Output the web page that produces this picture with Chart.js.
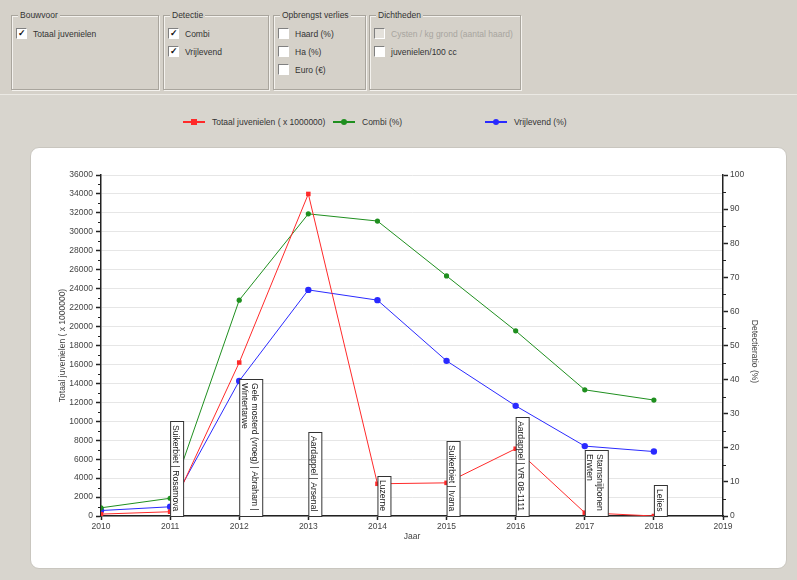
<!DOCTYPE html>
<html>
<head>
<meta charset="utf-8">
<script src="https://cdn.jsdelivr.net/npm/chart.js@4/dist/chart.umd.min.js"></script>
<style>
  html, body { margin:0; padding:0; }
  body { width:797px; height:580px; background:#d5d1c9; position:relative; overflow:hidden;
         font-family:"Liberation Sans", Arial, sans-serif; font-size:8.5px; color:#222; }
  .grp { position:absolute; border:1px solid #a9a59d; box-shadow:1px 1px 0 #f4f2ee, inset 1px 1px 0 #f4f2ee; }
  .grp .ttl { position:absolute; top:-6px; left:6px; background:#d5d1c9; padding:0 2px; color:#333; }
  .cb { position:absolute; display:flex; align-items:center; white-space:nowrap; color:#333; }
  .cb .box { width:9px; height:9px; background:#fff; border-top:1px solid #808080; border-left:1px solid #808080;
             border-bottom:1px solid #fff; border-right:1px solid #fff; margin-right:6px; position:relative;
             font-size:9px; line-height:9px; text-align:center; font-weight:bold; color:#111; }
  .cb.dis { color:#a8a59f; }
  .cb.dis .box { background:#e4e1db; }
  #lower { position:absolute; left:0; top:94px; width:797px; height:486px; background:#d8d5ce; border-top:1px solid #ebe9e4; }
  #panel { position:absolute; left:30px; top:147px; width:755px; height:420px; background:#fff;
           border:1px solid #c9c6bf; border-radius:9px; }
  #chartCanvas { position:absolute; left:31px; top:148px; }
  .lg { position:absolute; top:117px; display:flex; align-items:center; white-space:nowrap; font-size:8.5px; color:#333; }
  .lg .ln { position:relative; width:22px; height:2px; margin-right:7px; }
  .lg .mk { position:absolute; left:8px; top:-2px; width:6px; height:6px; }
</style>
</head>
<body>
<div class="grp" style="left:11px;top:15px;width:146px;height:73px;"><span class="ttl">Bouwvoor</span></div>
<div class="cb" style="left:16px;top:28px;"><span class="box">✓</span>Totaal juvenielen</div>

<div class="grp" style="left:163px;top:15px;width:104px;height:73px;"><span class="ttl">Detectie</span></div>
<div class="cb" style="left:168px;top:28px;"><span class="box">✓</span>Combi</div>
<div class="cb" style="left:168px;top:46px;"><span class="box">✓</span>Vrijlevend</div>

<div class="grp" style="left:273px;top:15px;width:91px;height:73px;"><span class="ttl">Opbrengst verlies</span></div>
<div class="cb" style="left:278px;top:28px;"><span class="box"></span>Haard (%)</div>
<div class="cb" style="left:278px;top:46px;"><span class="box"></span>Ha (%)</div>
<div class="cb" style="left:278px;top:64px;"><span class="box"></span>Euro (€)</div>

<div class="grp" style="left:369px;top:15px;width:150px;height:73px;"><span class="ttl">Dichtheden</span></div>
<div class="cb dis" style="left:374px;top:28px;"><span class="box"></span>Cysten / kg grond (aantal haard)</div>
<div class="cb" style="left:374px;top:46px;"><span class="box"></span>juvenielen/100 cc</div>

<div id="lower"></div>

<div class="lg" style="left:183px;"><span class="ln" style="background:#ff2a2a"><span class="mk" style="background:#ff2a2a"></span></span>Totaal juvenielen ( x 1000000)</div>
<div class="lg" style="left:333px;"><span class="ln" style="background:#1f8f1f"><span class="mk" style="background:#1f8f1f;border-radius:3px"></span></span>Combi (%)</div>
<div class="lg" style="left:485px;"><span class="ln" style="background:#2a2aff"><span class="mk" style="background:#2a2aff;border-radius:3px"></span></span>Vrijlevend (%)</div>

<div id="panel"></div>
<canvas id="chartCanvas" width="754" height="419"></canvas>

<script>
// ---- data ----
const years = [2010, 2011, 2012, 2013, 2014, 2015, 2016, 2017, 2018];
const totaalJuvenielen = [200, 450, 16200, 34000, 3400, 3500, 7100, 350, 0];
const combi = [2.4, 5.2, 63.3, 88.6, 86.5, 70.4, 54.3, 37.0, 34.0];
const vrijlevend = [1.6, 2.7, 39.6, 66.3, 63.3, 45.5, 32.3, 20.5, 18.9];
const cropYears = [2011, 2012, 2013, 2014, 2015, 2016, 2017, 2018];
const cropLabels = [
  ["Suikerbiet | Rosamova"],
  ["Gele mosterd (vroeg) | Abraham |", "Wintertarwe"],
  ["Aardappel | Arsenal"],
  ["Luzerne"],
  ["Suikerbiet | Ivana"],
  ["Aardappel | VR 08-1111"],
  ["Stamsnijbonen", "Erwten"],
  ["Lelies"]
];
const leftTitle = "Totaal juvenielen ( x 1000000)";
const rightTitle = "Detectieratio (%)";
const xTitle = "Jaar";

const FONT = '"Liberation Sans", Arial, sans-serif';

function pts(arr) { return years.map((y, i) => ({ x: y, y: arr[i] })); }

const extras = {
  id: 'extras',
  afterDatasetsDraw(chart) {
    const ctx = chart.ctx;
    const xs = chart.scales.x, ys = chart.scales.y;
    ctx.save();
    ctx.font = '8.6px ' + FONT;
    cropYears.forEach((yr, i) => {
      const lines = cropLabels[i];
      const x = xs.getPixelForValue(yr);
      const bottom = ys.bottom;
      let w = 0;
      lines.forEach(t => { w = Math.max(w, ctx.measureText(t).width); });
      const h = Math.round(w + 9);
      const bw = lines.length * 10 + 3;
      ctx.fillStyle = '#ffffff';
      ctx.fillRect(x + 0.5, bottom - h + 0.5, bw, h);
      ctx.strokeStyle = '#333';
      ctx.lineWidth = 1;
      ctx.strokeRect(x + 0.5, bottom - h + 0.5, bw, h);
      ctx.save();
      ctx.translate(x, bottom - h);
      ctx.rotate(Math.PI / 2);
      ctx.fillStyle = '#222';
      ctx.textBaseline = 'middle';
      ctx.textAlign = 'left';
      lines.forEach((t, j) => {
        ctx.fillText(t, 4, -(bw - 2) + 6 + j * 10);
      });
      ctx.restore();
    });
    ctx.restore();
  },
  afterDraw(chart) {
    const ctx = chart.ctx;
    const ys = chart.scales.y, y1 = chart.scales.y1, xs = chart.scales.x;
    ctx.save();
    ctx.strokeStyle = '#222';
    ctx.lineWidth = 1;
    for (let v = 1000; v < 36000; v += 2000) {
      const p = Math.round(ys.getPixelForValue(v)) + 0.5;
      ctx.beginPath(); ctx.moveTo(ys.right - 3, p); ctx.lineTo(ys.right, p); ctx.stroke();
    }
    for (let v = 5; v < 100; v += 10) {
      const p = Math.round(y1.getPixelForValue(v)) + 0.5;
      ctx.beginPath(); ctx.moveTo(y1.left, p); ctx.lineTo(y1.left + 3, p); ctx.stroke();
    }
    ctx.fillStyle = '#444';
    ctx.font = '8.5px ' + FONT;
    ctx.textAlign = 'center';
    ctx.textBaseline = 'middle';
    const midY = (ys.top + ys.bottom) / 2;
    ctx.save(); ctx.translate(32, midY); ctx.rotate(-Math.PI / 2); ctx.fillText(leftTitle, 0, 0); ctx.restore();
    ctx.save(); ctx.translate(723, midY + 6); ctx.rotate(Math.PI / 2); ctx.fillText(rightTitle, 0, 0); ctx.restore();
    ctx.fillText(xTitle, (xs.left + xs.right) / 2, 389);
    ctx.restore();
  }
};

const tickFont = { family: FONT, size: 8.5 };

new Chart(document.getElementById('chartCanvas'), {
  type: 'line',
  data: {
    datasets: [
      { label: 'Totaal juvenielen ( x 1000000)', data: pts(totaalJuvenielen), yAxisID: 'y',
        borderColor: '#ff2a2a', backgroundColor: '#ff2a2a', borderWidth: 1,
        pointStyle: 'rect', pointRadius: 3.2, pointBorderWidth: 0, tension: 0 },
      { label: 'Combi (%)', data: pts(combi), yAxisID: 'y1',
        borderColor: '#1f8f1f', backgroundColor: '#1f8f1f', borderWidth: 1,
        pointStyle: 'circle', pointRadius: 2.6, pointBorderWidth: 0, tension: 0 },
      { label: 'Vrijlevend (%)', data: pts(vrijlevend), yAxisID: 'y1',
        borderColor: '#2a2aff', backgroundColor: '#2a2aff', borderWidth: 1,
        pointStyle: 'circle', pointRadius: 3.2, pointBorderWidth: 0, tension: 0 }
    ]
  },
  options: {
    responsive: false,
    animation: false,
    devicePixelRatio: 1,
    layout: { padding: { top: 27, left: 0, right: 0, bottom: 0 } },
    plugins: { legend: { display: false }, tooltip: { enabled: false } },
    scales: {
      x: {
        type: 'linear', min: 2010, max: 2019,
        afterFit: s => { s.height = 51; },
        ticks: { stepSize: 1, font: tickFont, color: '#444', padding: 2, maxRotation: 0,
                 callback: v => String(v) },
        grid: { drawOnChartArea: false, drawTicks: true, tickLength: 4, tickColor: '#222', tickWidth: 1.5 },
        border: { display: true, color: '#222', width: 1.5 }
      },
      y: {
        position: 'left', min: 0, max: 36000,
        afterFit: s => { s.width = 70; },
        ticks: { stepSize: 2000, font: tickFont, color: '#444', padding: 3, callback: v => String(v) },
        grid: { drawOnChartArea: true, color: '#e6e6e6', lineWidth: 1, drawTicks: true,
                tickLength: 5, tickColor: '#222', tickWidth: 1.5 },
        border: { display: true, color: '#222', width: 1.5 }
      },
      y1: {
        position: 'right', min: 0, max: 100,
        afterFit: s => { s.width = 62; },
        ticks: { stepSize: 10, font: tickFont, color: '#444', padding: 2, callback: v => String(v) },
        grid: { drawOnChartArea: false, drawTicks: true, tickLength: 5, tickColor: '#222', tickWidth: 1.5 },
        border: { display: true, color: '#222', width: 1.5 }
      }
    }
  },
  plugins: [extras]
});
</script>
</body>
</html>
